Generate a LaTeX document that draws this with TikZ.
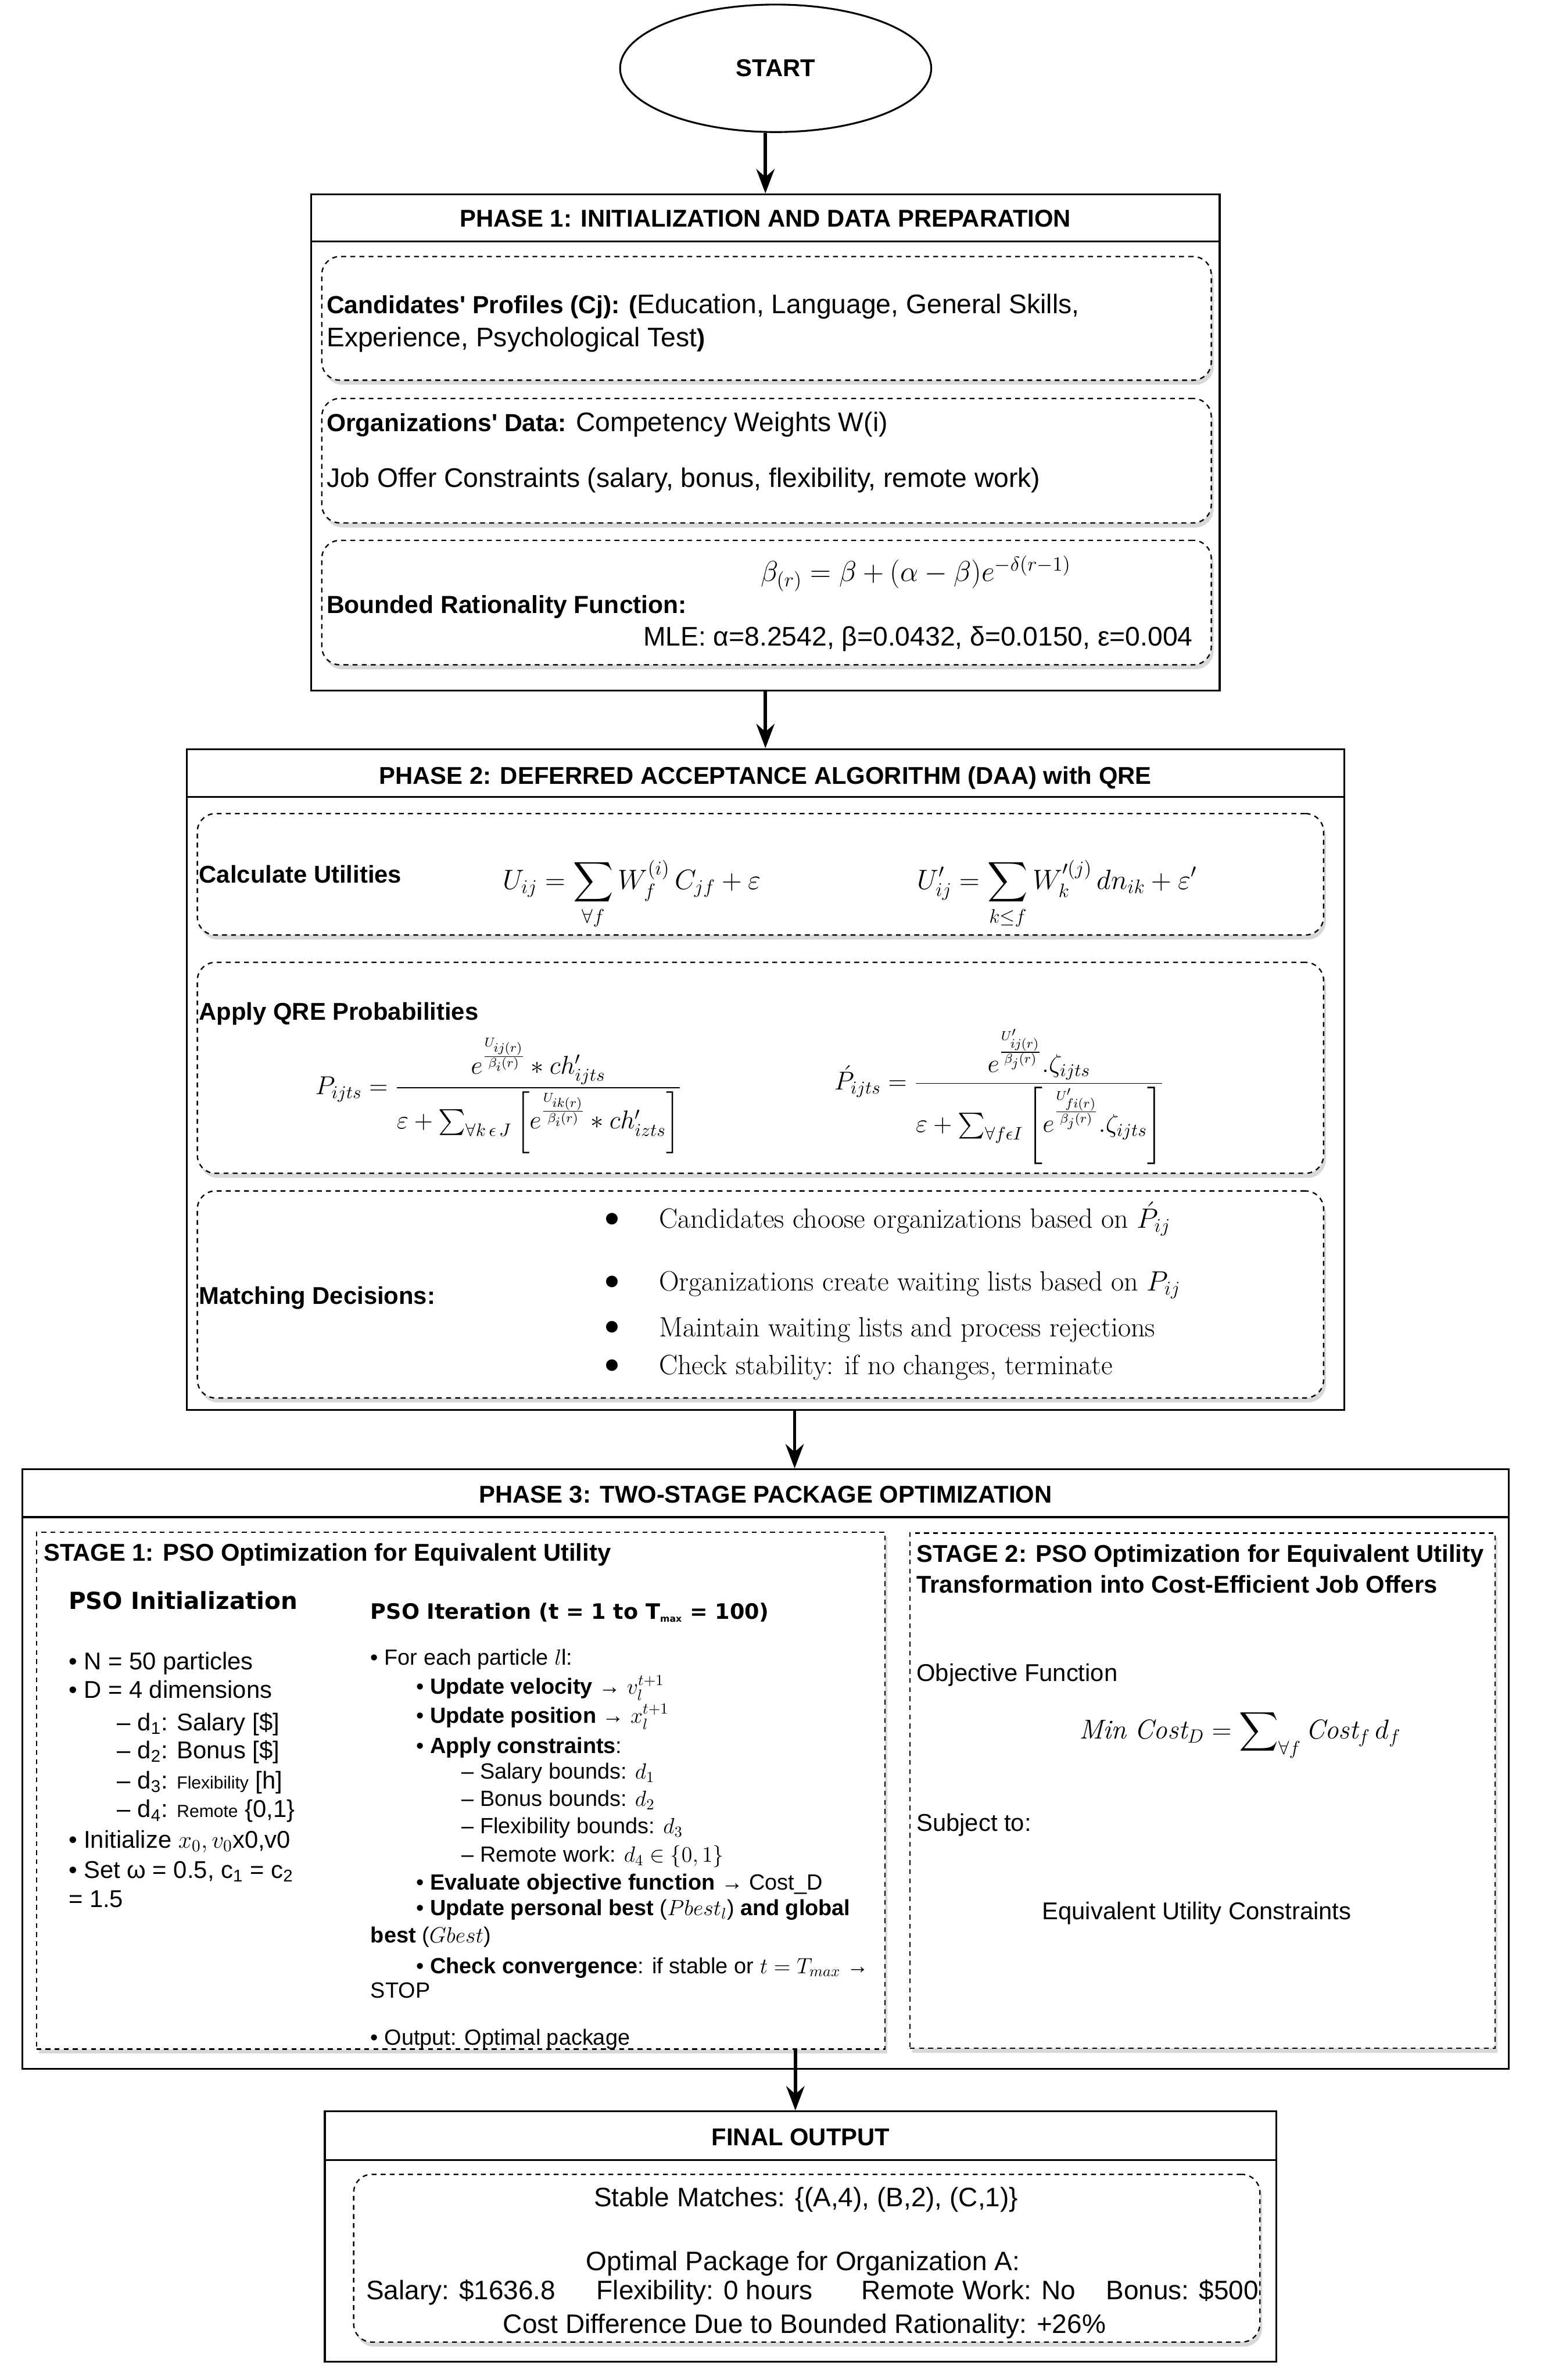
\RequirePackage{fix-cm}
\documentclass[tikz,border=0pt]{standalone}
\usepackage{amsmath,amssymb}
\usepackage{fontspec}
\setsansfont{Liberation Sans}
\newfontfamily\psofont{DejaVu Sans}
\usetikzlibrary{arrows.meta,shadows,shapes.geometric}
\newcommand{\setfs}[1]{\fontsize{#1}{#1}\selectfont}
\newcommand{\qs}{\textquotesingle}
\newcommand{\bigdot}{{\setfs{34}\textbullet}}
\tikzset{
  phase/.style={draw, line width=1.2pt, fill=white, inner sep=0pt},
  hdr/.style={line width=1.2pt},
  subbox/.style={draw, line width=0.9pt, dash pattern=on 3.2pt off 2.8pt, rounded corners=12pt, fill=white, inner sep=0pt, drop shadow={shadow xshift=1.5pt, shadow yshift=-3pt, opacity=0.3}},
  stagebox/.style={draw, line width=0.9pt, dash pattern=on 3.2pt off 2.8pt, fill=white, inner sep=0pt, drop shadow={shadow xshift=1.5pt, shadow yshift=-3pt, opacity=0.3}},
  arr/.style={line width=2.2pt, -{Stealth[length=16pt, width=12pt]}},
  ttl/.style={inner sep=0pt, anchor=base, font=\sffamily\bfseries\setfs{16}},
  tx/.style={inner sep=0pt, anchor=base west, font=\sffamily\setfs{16}},
  txl/.style={inner sep=0pt, anchor=base west, font=\sffamily\setfs{17.7}},
  txb/.style={inner sep=0pt, anchor=base west, font=\sffamily\bfseries\setfs{16}},
  ini/.style={inner sep=0pt, anchor=base west, font=\sffamily\setfs{16}},
  itr/.style={inner sep=0pt, anchor=base west, font=\sffamily\setfs{14.5}},
  mth/.style={inner sep=0pt, anchor=base west, font=\setfs{17}},
  ser/.style={inner sep=0pt, anchor=base west, font=\rmfamily\setfs{18.4}},
  fin/.style={inner sep=0pt, anchor=base, font=\sffamily\setfs{17.6}},
}
\begin{document}
\begin{tikzpicture}[x=1pt,y=-1pt]
\useasboundingbox (0,0) rectangle (1015,1568);
\fill[white] (0,0) rectangle (1015,1568);

% START
\node[draw, ellipse, line width=1.2pt, minimum width=205pt, minimum height=84pt, inner sep=0pt, font=\sffamily\bfseries\setfs{16}] (start) at (511,45) {START};

% PHASE 1
\node[phase, minimum width=598.5pt, minimum height=327pt] (p1) at (504.25,291.5) {};
\draw[hdr] (p1.north west |- 0,159) -- (p1.north east |- 0,159);
\node[ttl] (p1t) at (504.25,149.6) {PHASE 1: INITIALIZATION AND DATA PREPARATION};
\node[subbox, minimum width=586pt, minimum height=81.5pt] (s11) at (505,209.75) {};
\node[subbox, minimum width=586pt, minimum height=82pt] (s12) at (505,303.5) {};
\node[subbox, minimum width=586pt, minimum height=82pt] (s13) at (505,397) {};
\node[txl] (c1) at (215,206.6) {{\bfseries\setfs{16.3}Candidates\qs{} Profiles (Cj): (}Education, Language, General Skills,};
\node[txl] (c2) at (215,228.3) {Experience, Psychological Test{\bfseries\setfs{16.3})}};
\node[txl] (o1) at (215,284.3) {{\bfseries\setfs{16.3}Organizations\qs{} Data:} Competency Weights W(i)};
\node[txl] (o2) at (215,321.1) {Job Offer Constraints (salary, bonus, flexibility, remote work)};
\node[mth, font=\setfs{19}] (bf) at (501,383) {$\beta_{(r)} = \beta + (\alpha - \beta)e^{-\delta(r-1)}$};
\node[txb, font=\sffamily\bfseries\setfs{16.3}] (br) at (215,404.1) {Bounded Rationality Function:};
\node[txl, anchor=base east] (mle) at (786,425.6) {MLE: α=8.2542, β=0.0432, δ=0.0150, ε=0.004};

% PHASE 2
\node[phase, minimum width=762.5pt, minimum height=435.5pt] (p2) at (504.25,711.25) {};
\draw[hdr] (p2.north west |- 0,525) -- (p2.north east |- 0,525);
\node[ttl] (p2t) at (504.25,516.6) {PHASE 2: DEFERRED ACCEPTANCE ALGORITHM (DAA) with QRE};
\node[subbox, minimum width=742pt, minimum height=80pt] (s21) at (501,576) {};
\node[subbox, minimum width=742pt, minimum height=139pt] (s22) at (501,703.5) {};
\node[subbox, minimum width=742pt, minimum height=136.4pt] (s23) at (501,852.8) {};
\node[txb] (cu) at (131,581.6) {Calculate Utilities};
\node[mth, font=\setfs{18.4}] (u1) at (331,585.8) {$\displaystyle U_{ij} = \sum_{\forall f} W_f^{(i)}\, C_{jf} + \varepsilon$};
\node[mth, font=\setfs{18.4}] (u2) at (604,585.8) {$\displaystyle U'_{ij} = \sum_{k\leq f} W^{\prime(j)}_{k}\, dn_{ik} + \varepsilon'$};
\node[txb] (aq) at (131,672.1) {Apply QRE Probabilities};
\node[mth] (q1) at (207.5,721) {$\displaystyle P_{ijts}=\frac{e^{\frac{U_{ij(r)}}{\beta_i(r)}}*ch'_{ijts}}{\varepsilon+\sum\nolimits_{\forall k\,\epsilon\, J}\left[e^{\frac{U_{ik(r)}}{\beta_i(r)}}*ch'_{izts}\right]}$};
\node[mth] (q2) at (549.5,718) {$\displaystyle \acute{P}_{ijts}=\frac{e^{\frac{U'_{ij(r)}}{\beta_j(r)}}.\zeta_{ijts}}{\varepsilon+\sum\nolimits_{\forall f\epsilon I}\left[e^{\frac{U'_{fi(r)}}{\beta_j(r)}}.\zeta_{ijts}\right]}$};
\node[txb] (md) at (131,859.2) {Matching Decisions:};
\node[ser, anchor=base] (b1) at (403.4,812) {\bigdot};
\node[ser] (m1) at (434,809) {Candidates choose organizations based on $\acute{P}_{ij}$};
\node[ser, anchor=base] (b2) at (403.4,853.5) {\bigdot};
\node[ser] (m2) at (434,850.5) {Organizations create waiting lists based on $P_{ij}$};
\node[ser, anchor=base] (b3) at (403.4,883.5) {\bigdot};
\node[ser] (m3) at (434,880.5) {Maintain waiting lists and process rejections};
\node[ser, anchor=base] (b4) at (403.4,908.5) {\bigdot};
\node[ser] (m4) at (434,905.5) {Check stability: if no changes, terminate};

% PHASE 3
\node[phase, minimum width=979.4pt, minimum height=395pt] (p3) at (504.3,1165.5) {};
\draw[hdr] (p3.north west |- 0,999.5) -- (p3.north east |- 0,999.5);
\node[ttl] (p3t) at (504.3,990.1) {PHASE 3: TWO-STAGE PACKAGE OPTIMIZATION};
\node[stagebox, minimum width=559pt, minimum height=340.5pt] (st1) at (303.5,1179.75) {};
\node[stagebox, minimum width=385.5pt, minimum height=339.5pt] (st2) at (792.25,1179.75) {};
\node[txb] (st1t) at (28.6,1028.6) {STAGE 1: PSO Optimization for Equivalent Utility};
\node[inner sep=0pt, anchor=base west, font=\psofont\bfseries\setfs{15.5}] (pin) at (45,1060.2) {PSO Initialization};
\node[inner sep=0pt, anchor=base west, font=\psofont\bfseries\setfs{14}] (pit) at (244,1066.6) {PSO Iteration (t = 1 to T\textsubscript{\setfs{6}max} = 100)};
% init list
\node[ini] (i1) at (45,1100.1) {• N = 50 particles};
\node[ini] (i2) at (45,1118.8) {• D = 4 dimensions};
\node[ini] (i3) at (77,1140.1) {– d\textsubscript{1}: Salary [\$]};
\node[ini] (i4) at (77,1158.4) {– d\textsubscript{2}: Bonus [\$]};
\node[ini] (i5) at (77,1178.4) {– d\textsubscript{3}: {\setfs{11.5}Flexibility} [h]};
\node[ini] (i6) at (77,1197.4) {– d\textsubscript{4}: {\setfs{11.5}Remote} \{0,1\}};
\node[ini] (i7) at (45,1217.4) {• Initialize $x_0, v_0$x0,v0};
\node[ini] (i8) at (45,1237.4) {• Set ω = 0.5, c\textsubscript{1} = c\textsubscript{2}};
\node[ini] (i9) at (45,1256.4) {= 1.5};
% iteration list
\node[itr] (t1) at (244,1097.1) {• For each particle $l$l:};
\node[itr] (t2) at (274,1116.1) {• \textbf{Update velocity} → $v_l^{t+1}$};
\node[itr] (t3) at (274,1135.1) {• \textbf{Update position} → $x_l^{t+1}$};
\node[itr] (t4) at (274,1155.1) {• \textbf{Apply constraints}:};
\node[itr] (t5) at (304,1172.1) {– Salary bounds: $d_1$};
\node[itr] (t6) at (304,1190.1) {– Bonus bounds: $d_2$};
\node[itr] (t7) at (304,1208.1) {– Flexibility bounds: $d_3$};
\node[itr] (t8) at (304,1226.7) {– Remote work: $d_4 \in \{0,1\}$};
\node[itr] (t9) at (274,1245.1) {• \textbf{Evaluate objective function} → Cost\_D};
\node[itr] (t10) at (274,1262.1) {• \textbf{Update personal best} ($Pbest_l$) \textbf{and global}};
\node[itr] (t11) at (244,1280.1) {\textbf{best} ($Gbest$)};
\node[itr] (t12) at (274,1300.1) {• \textbf{Check convergence}: if stable or $t = T_{max}$ →};
\node[itr] (t13) at (244,1316.1) {STOP};
\node[itr] (t14) at (244,1347.1) {• Output: Optimal package};
% stage 2
\node[txb] (st2a) at (603.6,1029.1) {STAGE 2: PSO Optimization for Equivalent Utility};
\node[txb] (st2b) at (603.6,1049.6) {Transformation into Cost-Efficient Job Offers};
\node[tx] (obj) at (603.6,1107.6) {Objective Function};
\node[mth, font=\setfs{18}, anchor=base] (mc) at (817,1145.5) {$\displaystyle \mathit{Min}\ \mathit{Cost}_D = \sum\nolimits_{\forall f} \mathit{Cost}_f\, d_f$};
\node[tx] (sub) at (603.6,1206.4) {Subject to:};
\node[tx, anchor=base] (euc) at (788.4,1264.6) {Equivalent Utility Constraints};

% FINAL OUTPUT
\node[phase, minimum width=627pt, minimum height=165pt] (fo) at (527.5,1473.5) {};
\draw[hdr] (fo.north west |- 0,1423) -- (fo.north east |- 0,1423);
\node[ttl] (fot) at (527.5,1413.6) {FINAL OUTPUT};
\node[subbox, minimum width=597pt, minimum height=110.5pt] (fi) at (531.5,1487.75) {};
\node[fin] (f1) at (531,1453.7) {Stable Matches: \{(A,4), (B,2), (C,1)\}};
\node[fin] (f2) at (529,1495.8) {Optimal Package for Organization A:};
\node[fin, anchor=base west] (f3) at (241,1514.9) {Salary: \$1636.8\hspace{27pt}Flexibility: 0 hours\hspace{32pt}Remote Work: No\hspace{20pt}Bonus: \$500};
\node[fin] (f4) at (530,1537.2) {Cost Difference Due to Bounded Rationality: +26\%};

% arrows
\draw[arr] (start.south -| p1.north) -- (p1.north);
\draw[arr] (p1.south) -- (p2.north);
\coordinate (a3) at (523.5,929);
\draw[arr] (a3) -- (a3 |- p3.north);
\coordinate (a4) at (524,1350);
\draw[arr] (a4) -- (a4 |- fo.north);
\end{tikzpicture}
\end{document}
